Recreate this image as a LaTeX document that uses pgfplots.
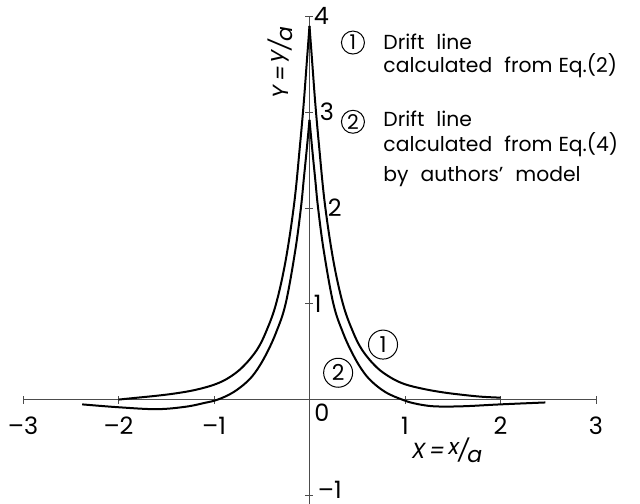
\documentclass[border=0pt]{standalone}
\usepackage{pgfplots}
\pgfplotsset{compat=1.18}
\usepackage{fontspec}
\setmainfont{Poppins}

% drift line (1): from Eq.(2)
\pgfplotstableread{
x y
-2.00 0.00
-1.80 0.02
-1.60 0.04
-1.40 0.065
-1.20 0.10
-1.00 0.155
-0.85 0.225
-0.70 0.34
-0.55 0.52
-0.45 0.72
-0.35 1.00
-0.25 1.45
-0.16 2.05
-0.10 2.65
-0.06 3.10
-0.03 3.50
 0.00 3.90
}\lineAleft
\pgfplotstableread{
x y
0.00 3.90
0.03 3.50
0.06 3.10
0.10 2.65
0.16 2.05
0.25 1.45
0.35 1.00
0.45 0.72
0.55 0.52
0.70 0.34
0.85 0.23
1.00 0.16
1.20 0.11
1.40 0.075
1.60 0.05
1.80 0.03
2.00 0.02
}\lineAright

% drift line (2): from Eq.(4), authors' model
\pgfplotstableread{
x y
-2.38 -0.05
-2.00 -0.08
-1.60 -0.10
-1.30 -0.075
-1.10 -0.035
-0.96  0.00
-0.80  0.075
-0.65  0.19
-0.55  0.31
-0.45  0.48
-0.35  0.70
-0.25  1.00
-0.15  1.55
-0.09  2.00
-0.06  2.30
-0.03  2.60
 0.00  2.92
}\lineBleft
\pgfplotstableread{
x y
0.00  2.92
0.03  2.60
0.06  2.30
0.09  2.00
0.15  1.55
0.25  1.00
0.35  0.70
0.45  0.48
0.55  0.31
0.65  0.19
0.80  0.075
0.97  0.00
1.10 -0.04
1.30 -0.07
1.60 -0.07
2.00 -0.05
2.47 -0.03
}\lineBright

\begin{document}
\begin{tikzpicture}
\path[use as bounding box] (-11.5bp,0bp) rectangle (308.5bp,252bp);
\begin{axis}[
  at={(0,0)}, anchor=south west,
  scale only axis, width=286.5bp, height=243.8bp,
  xmin=-3, xmax=3, ymin=-1.09, ymax=4,
  axis lines=middle,
  axis line style={black!70, line width=0.4pt, -},
  xtick={-3,-2,-1,1,2,3},
  xticklabels={--3,--2,--1,1,2,3},
  ytick={-1,1,2,3,4},
  yticklabels={{},1,\hspace*{7bp}2,\hspace*{3bp}3,4},
  tick align=center,
  major tick length=4bp,
  tick style={black!70, line width=0.4pt},
  xticklabel style={font=\fontsize{12}{12}\selectfont, anchor=north, inner sep=0pt, yshift=-6.5bp},
  yticklabel style={font=\fontsize{12}{12}\selectfont, anchor=west, inner sep=0pt, xshift=4bp},
  clip=false,
]
\addplot[black, line width=1bp, smooth, tension=0.6] table {\lineAleft};
\addplot[black, line width=1bp, smooth, tension=0.6] table {\lineAright};
\addplot[black, line width=1bp, smooth, tension=0.6] table {\lineBleft};
\addplot[black, line width=1bp, smooth, tension=0.6] table {\lineBright};

% origin and lowest y labels
\node[font=\fontsize{12}{12}\selectfont] at (axis cs:0.13,-0.14) {0};
\node[font=\fontsize{12}{12}\selectfont, anchor=west, inner sep=0pt, xshift=4bp]
  at (axis cs:0,-0.94) {--1};

% axis titles
\node[font=\fontsize{11}{11}\itshape, rotate=90] at (axis cs:-0.31,3.52)
  {Y\,=\,\raisebox{0.35ex}{y}\kern-0.05em/\kern-0.05em\raisebox{-0.35ex}{a}};
\node[font=\fontsize{11}{11}\itshape] at (axis cs:1.44,-0.53)
  {X\,=\,\raisebox{0.35ex}{x}\kern-0.05em/\kern-0.05em\raisebox{-0.35ex}{a}};

% curve markers
\node[circle, draw, line width=0.5bp, minimum size=14.5bp, inner sep=0pt,
  font=\fontsize{11}{11}\selectfont] at (axis cs:0.77,0.574) {1};
\node[circle, draw, line width=0.5bp, minimum size=14.5bp, inner sep=0pt,
  font=\fontsize{11}{11}\selectfont] at (axis cs:0.30,0.28) {2};

% key
\begin{scope}[every node/.style={font=\fontsize{10.2}{10.2}\selectfont, inner sep=0pt}]
\node[circle, draw, line width=0.5bp, minimum size=11.5bp] at (axis cs:0.455,3.727) {1};
\node[anchor=base west] at (axis cs:0.77,3.653) {Drift\hspace{6bp}line};
\node[anchor=base west] at (axis cs:0.77,3.413) {calculated\hspace{6bp}from\hspace{3bp}Eq.(2)};
\node[circle, draw, line width=0.5bp, minimum size=11.5bp] at (axis cs:0.455,2.90) {2};
\node[anchor=base west] at (axis cs:0.77,2.85) {Drift\hspace{6bp}line};
\node[anchor=base west] at (axis cs:0.77,2.59) {calculated\hspace{6bp}from\hspace{3bp}Eq.(4)};
\node[anchor=base west] at (axis cs:0.77,2.276) {by\hspace{6bp}authors'\hspace{6bp}model};
\end{scope}
\end{axis}
\end{tikzpicture}
\end{document}
